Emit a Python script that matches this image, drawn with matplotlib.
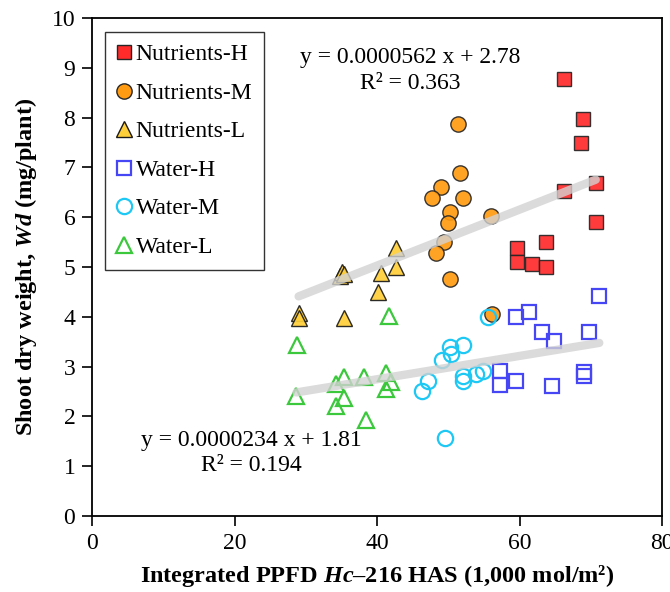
import matplotlib
matplotlib.use("Agg")
import matplotlib.pyplot as plt
import numpy as np

plt.rcParams['font.family'] = ['Liberation Serif', 'DejaVu Serif']
plt.rcParams['mathtext.fontset'] = 'custom'
plt.rcParams['mathtext.it'] = 'Liberation Serif:italic:bold'
plt.rcParams['mathtext.rm'] = 'Liberation Serif:bold'
plt.rcParams['mathtext.bf'] = 'Liberation Serif:bold'

# ---- data (x: integrated PPFD, 1,000 mol/m2; y: shoot dry weight, mg/plant)
nh_x = [66.2, 68.9, 68.7, 70.7, 66.3, 70.7, 59.7, 59.7, 61.8, 63.7, 63.7]
nh_y = [8.78, 7.98, 7.48, 6.68, 6.52, 5.90, 5.38, 5.10, 5.07, 5.50, 5.00]

nm_x = [51.3, 51.6, 49.0, 47.7, 52.0, 50.3, 49.9, 49.4, 48.3, 50.3, 56.0, 56.1]
nm_y = [7.88, 6.88, 6.60, 6.38, 6.38, 6.10, 5.89, 5.50, 5.29, 4.75, 6.02, 4.05]

nl_x = [42.7, 42.7, 40.6, 40.2, 34.8, 35.1, 35.3, 35.3, 29.0, 29.0]
nl_y = [5.38, 4.99, 4.88, 4.50, 4.82, 4.90, 4.86, 3.98, 4.08, 3.98]

wh_x = [59.5, 61.4, 63.2, 64.9, 69.7, 71.2, 57.2, 57.2, 59.5, 64.5, 69.1, 69.1]
wh_y = [4.00, 4.10, 3.70, 3.51, 3.70, 4.41, 2.91, 2.63, 2.71, 2.61, 2.90, 2.81]

wm_x = [55.6, 50.3, 52.1, 50.4, 49.1, 47.1, 46.3, 52.0, 52.0, 53.9, 54.9, 49.6]
wm_y = [4.00, 3.40, 3.43, 3.26, 3.14, 2.71, 2.51, 2.82, 2.71, 2.86, 2.91, 1.57]

wl_x = [41.7, 28.8, 35.4, 34.2, 38.2, 41.2, 41.9, 41.2, 35.4, 34.2, 28.7, 38.4]
wl_y = [4.02, 3.43, 2.80, 2.65, 2.80, 2.88, 2.69, 2.55, 2.36, 2.21, 2.41, 1.92]

# trend lines (y = slope * X + intercept, X in mol/m2)
trend_slope = [0.0000562, 0.0000234]
trend_intercept = [2.78, 1.81]
trend_r2 = [0.363, 0.194]

x_ticks = [0, 20, 40, 60, 80]
y_ticks = list(range(0, 11))

fig = plt.figure(figsize=(6.7, 5.92), dpi=100)
ax = fig.add_axes([92/670, 1-516/592, (662-92)/670, (516-18)/592])

ms = 11
ax.plot(nh_x, nh_y, 's', ms=10.5, mfc='#ff2a2a', mec='#262626', mew=1.0, alpha=0.92,
        label='Nutrients-H', zorder=3)
ax.plot(nm_x, nm_y, 'o', ms=ms, mfc='#ff9b12', mec='#262626', mew=1.0, alpha=0.92,
        label='Nutrients-M', zorder=3)
ax.plot(nl_x, nl_y, '^', ms=ms, mfc='#ffcf3a', mec='#1a1a1a', mew=1.0, alpha=0.92,
        label='Nutrients-L', zorder=3)
ax.plot(wh_x, wh_y, 's', ms=10.5, mfc='none', mec='#4646f5', mew=1.6,
        label='Water-H', zorder=3)
ax.plot(wm_x, wm_y, 'o', ms=ms, mfc='none', mec='#1ec8f5', mew=1.6,
        label='Water-M', zorder=3)
ax.plot(wl_x, wl_y, '^', ms=ms, mfc='none', mec='#3cc83c', mew=1.6,
        label='Water-L', zorder=3)

groups_x = [nh_x + nm_x + nl_x, wh_x + wm_x + wl_x]
for gx, s, b in zip(groups_x, trend_slope, trend_intercept):
    xs = np.array([min(gx), max(gx)])
    ax.plot(xs, s * 1000 * xs + b, '-', color='#d2d2d2', lw=6, alpha=0.8,
            solid_capstyle='round', zorder=4)

fs = 17
ax.text(44.7, 9.10, 'y = %.7f x + %.2f' % (trend_slope[0], trend_intercept[0]),
        ha='center', va='baseline', fontsize=fs)
ax.text(44.7, 8.57, 'R² = %.3f' % trend_r2[0], ha='center', va='baseline', fontsize=fs)
ax.text(22.3, 1.40, 'y = %.7f x + %.2f' % (trend_slope[1], trend_intercept[1]),
        ha='center', va='baseline', fontsize=fs)
ax.text(22.3, 0.90, 'R² = %.3f' % trend_r2[1], ha='center', va='baseline', fontsize=fs)

ax.set_xlim(0, 80)
ax.set_ylim(0, 10)
ax.set_xticks(x_ticks)
ax.set_yticks(y_ticks)
ax.tick_params(direction='out', length=7, width=1.2, labelsize=fs, pad=5)
for sp in ax.spines.values():
    sp.set_linewidth(1.3)
    sp.set_color('black')

ax.set_xlabel('Integrated PPFD $Hc$–216 HAS (1,000 mol/m²)', fontsize=17.5,
              fontweight='bold', labelpad=7)
ax.set_ylabel('Shoot dry weight, $Wd$ (mg/plant)', fontsize=17.5,
              fontweight='bold', labelpad=9)

leg = ax.legend(loc='upper left', bbox_to_anchor=(13/570, 1-14/498), borderaxespad=0,
                fontsize=fs, frameon=True, fancybox=False, edgecolor='black',
                handlelength=0.6, handletextpad=0.2, labelspacing=0.72,
                borderpad=0.5, markerscale=1.0)
leg.get_frame().set_linewidth(1.0)
for h in leg.legend_handles:
    h.set_alpha(1)

fig.savefig('out.png', dpi=100)
